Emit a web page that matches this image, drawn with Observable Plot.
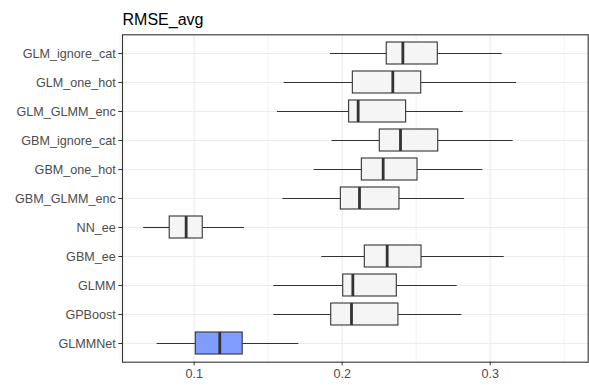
<!DOCTYPE html>
<html>
<head>
<meta charset="utf-8">
<script src="https://cdn.jsdelivr.net/npm/d3@7"></script>
<script src="https://cdn.jsdelivr.net/npm/@observablehq/plot@0.6"></script>
<style>
  html, body { margin: 0; padding: 0; background: #fff; }
</style>
</head>
<body>
<div id="chart"></div>
<script>
const methods = ["GLM_ignore_cat", "GLM_one_hot", "GLM_GLMM_enc", "GBM_ignore_cat", "GBM_one_hot", "GBM_GLMM_enc", "NN_ee", "GBM_ee", "GLMM", "GPBoost", "GLMMNet"];
const whiskerLow  = [0.1921, 0.1608, 0.1563, 0.1932, 0.1811, 0.1599, 0.0659, 0.1862, 0.1538, 0.1538, 0.0750];
const q1          = [0.2301, 0.2072, 0.2047, 0.2254, 0.2133, 0.1991, 0.0835, 0.2153, 0.2007, 0.1926, 0.1011];
const median      = [0.2410, 0.2342, 0.2108, 0.2394, 0.2277, 0.2117, 0.0946, 0.2304, 0.2072, 0.2063, 0.1173];
const q3          = [0.2646, 0.2534, 0.2432, 0.2649, 0.2509, 0.2387, 0.1058, 0.2536, 0.2369, 0.2380, 0.1328];
const whiskerHigh = [0.3081, 0.3178, 0.2818, 0.3155, 0.2950, 0.2826, 0.1340, 0.3095, 0.2777, 0.2808, 0.1707];
const highlighted = "GLMMNet";
const majorTicks = [0.1, 0.2, 0.3];
const minorTicks = [0.05, 0.15, 0.25, 0.35];
const title = "RMSE_avg";

const rows = methods.map((m, i) => ({
  method: m, lo: whiskerLow[i], q1: q1[i], med: median[i], q3: q3[i], hi: whiskerHigh[i],
  hl: m === highlighted
}));

const dark = "#333333";
const plot = Plot.plot({
  width: 589,
  height: 385,
  marginLeft: 122,
  marginRight: 1.3,
  marginTop: 34.3,
  marginBottom: 23.3,
  style: { fontFamily: "'Liberation Sans', Arial, sans-serif", background: "#fff" },
  x: { domain: [0.0516, 0.3662], ticks: majorTicks, tickFormat: d => d.toFixed(1) },
  y: { domain: methods, paddingInner: 0.25, paddingOuter: 0.225, align: 0.5 },
  marks: [
    Plot.ruleX(minorTicks, { stroke: "#EBEBEB", strokeWidth: 0.6 }),
    Plot.ruleX(majorTicks, { stroke: "#EBEBEB", strokeWidth: 1.1 }),
    Plot.ruleY(methods, { y: d => d, stroke: "#EBEBEB", strokeWidth: 1.1 }),
    Plot.ruleY(rows, { y: "method", x1: "lo", x2: "q1", stroke: dark, strokeWidth: 1.1 }),
    Plot.ruleY(rows, { y: "method", x1: "q3", x2: "hi", stroke: dark, strokeWidth: 1.1 }),
    Plot.barX(rows, { y: "method", x1: "q1", x2: "q3", fill: d => d.hl ? "#809CFF" : "#F5F5F5", stroke: dark, strokeWidth: 1.1 }),
    Plot.tickX(rows, { y: "method", x: "med", stroke: dark, strokeWidth: 2.8 }),
    Plot.frame({ stroke: dark, strokeWidth: 1.1 }),
    Plot.axisY({ tickSize: 3.7, tickPadding: 3, fontSize: 12.6, fill: "#4D4D4D", stroke: dark, label: null }),
    Plot.axisX({ ticks: majorTicks, tickFormat: d => d.toFixed(1), tickSize: 3.7, tickPadding: 3, fontSize: 12.6, fill: "#4D4D4D", stroke: dark, label: null }),
    Plot.text([title], { frameAnchor: "top-left", textAnchor: "start", lineAnchor: "bottom", dy: -10, fontSize: 16, fill: "#000" })
  ]
});
document.getElementById("chart").appendChild(plot);
</script>
</body>
</html>
